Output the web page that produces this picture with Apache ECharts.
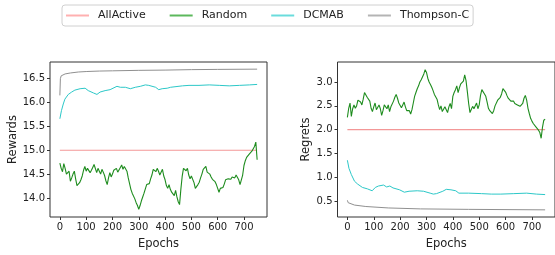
<!DOCTYPE html>
<html>
<head>
<meta charset="utf-8">
<script src="https://cdn.jsdelivr.net/npm/echarts@6/dist/echarts.min.js"></script>
<style>html,body{margin:0;padding:0;background:#fff}#c{width:555px;height:255px}</style>
</head>
<body>
<div id="c"></div>
<script>
// ---------- data ----------
const seriesNames = ['AllActive', 'Random', 'DCMAB', 'Thompson-C'];
const xTicks = [0, 100, 200, 300, 400, 500, 600, 700];
const rewardTicks = [14.0, 14.5, 15.0, 15.5, 16.0, 16.5];
const regretTicks = [0.5, 1.0, 1.5, 2.0, 2.5, 3.0];

// Random series sampled every 5 epochs (0..750)
const randomEpochs = Array.from({length: 151}, (_, i) => i * 5);
const rewardRandom = [
  14.73,14.62,14.55,14.72,14.62,14.50,14.46,14.56,14.35,14.42,
  14.50,14.56,14.40,14.26,14.24,14.32,14.38,14.46,14.58,14.66,
  14.56,14.62,14.58,14.53,14.58,14.64,14.70,14.74,14.53,14.62,
  14.56,14.50,14.60,14.54,14.47,14.36,14.28,14.42,14.53,14.44,
  14.50,14.58,14.60,14.62,14.54,14.58,14.64,14.69,14.60,14.66,
  14.68,14.56,14.42,14.30,14.18,14.10,14.06,13.98,13.90,13.84,
  13.76,13.84,13.94,14.02,14.10,14.19,14.28,14.32,14.30,14.40,
  14.48,14.60,14.64,14.55,14.62,14.56,14.48,14.46,14.60,14.46,
  14.38,14.26,14.20,14.28,14.18,14.12,14.08,14.05,14.16,14.02,
  13.92,13.86,14.18,14.45,14.62,14.62,14.57,14.62,14.48,14.40,
  14.46,14.48,14.32,14.20,14.24,14.28,14.33,14.42,14.50,14.60,
  14.64,14.66,14.54,14.58,14.50,14.44,14.39,14.42,14.34,14.28,
  14.20,14.12,14.20,14.17,14.22,14.29,14.38,14.36,14.40,14.42,
  14.39,14.44,14.46,14.42,14.48,14.46,14.38,14.28,14.30,14.48,
  14.68,14.78,14.85,14.87,14.92,14.96,14.98,15.02,15.08,15.17,
  14.80
];
const regretRandom = [
  2.26,2.45,2.56,2.28,2.44,2.52,2.45,2.50,2.62,2.66,
  2.58,2.52,2.64,2.78,2.75,2.68,2.70,2.60,2.45,2.38,
  2.48,2.56,2.42,2.45,2.52,2.44,2.30,2.40,2.52,2.50,
  2.44,2.52,2.38,2.48,2.44,2.60,2.68,2.74,2.66,2.56,
  2.56,2.46,2.52,2.58,2.48,2.40,2.40,2.40,2.33,2.42,
  2.56,2.70,2.78,2.86,2.92,3.00,3.05,3.08,3.17,3.26,
  3.20,3.08,3.00,2.95,2.89,2.82,2.74,2.70,2.64,2.52,
  2.42,2.50,2.38,2.42,2.48,2.42,2.36,2.48,2.55,2.44,
  2.70,2.78,2.84,2.92,2.78,2.88,2.96,2.93,3.02,3.15,
  3.03,2.80,2.55,2.36,2.40,2.49,2.44,2.48,2.56,2.44,
  2.52,2.72,2.84,2.82,2.75,2.70,2.58,2.45,2.40,2.42,
  2.34,2.40,2.50,2.54,2.62,2.65,2.68,2.75,2.86,2.88,
  2.79,2.72,2.66,2.62,2.60,2.57,2.60,2.55,2.56,2.52,
  2.54,2.49,2.51,2.55,2.66,2.72,2.62,2.45,2.34,2.24,
  2.18,2.13,2.10,2.06,2.02,1.99,1.94,1.82,2.05,2.20,
  2.22
];

const allActiveEpochs = [0, 750];
const rewardAllActive = [15.0, 15.0];
const regretAllActive = [2.0, 2.0];

const rewardDcmabEpochs = [0,6,13,19,32,45,57,77,96,108,128,141,147,153,160,172,191,217,230,249,268,287,306,325,338,364,376,389,408,421,427,466,491,529,568,606,644,683,721,750];
const rewardDcmab = [15.66,15.83,15.97,16.07,16.17,16.22,16.26,16.29,16.30,16.25,16.20,16.17,16.18,16.22,16.20,16.25,16.27,16.34,16.32,16.32,16.29,16.32,16.34,16.37,16.36,16.32,16.27,16.29,16.30,16.32,16.36,16.35,16.36,16.36,16.37,16.36,16.35,16.36,16.37,16.38];

const rewardThompsonEpochs = [0,2,5,10,20,40,70,100,150,200,300,400,500,600,750];
const rewardThompson = [16.15,16.50,16.56,16.58,16.60,16.62,16.64,16.65,16.66,16.665,16.675,16.68,16.69,16.695,16.70];

const regretDcmabEpochs = [0,6,15,27,39,57,76,94,106,118,137,143,149,161,173,198,216,234,265,289,314,326,338,362,375,393,411,423,460,509,546,582,631,680,717,750];
const regretDcmab = [1.36,1.19,1.06,0.92,0.86,0.79,0.76,0.72,0.79,0.82,0.84,0.86,0.80,0.82,0.78,0.74,0.69,0.71,0.72,0.71,0.67,0.65,0.66,0.71,0.75,0.74,0.72,0.67,0.67,0.66,0.65,0.65,0.66,0.67,0.65,0.64];

const regretThompsonEpochs = [0,3,8,27,70,155,277,460,750];
const regretThompson = [0.52,0.47,0.45,0.42,0.39,0.36,0.34,0.33,0.32];

// ---------- styling ----------
const colors = {'AllActive':'#f39797','Random':'#1e8c1e','DCMAB':'#2cc8c8','Thompson-C':'#909090'};
const legendColors = {'AllActive':'#ffb0b0','Random':'#5cb85c','DCMAB':'#6adcdc','Thompson-C':'#b4b4b4'};
const FONT = 'DejaVu Sans';
const pair = (xs, ys) => xs.map((x, i) => [x, ys[i]]);

function xAxis(gi) {
  return {
    type: 'value', gridIndex: gi, min: -37.5, max: 787.5,
    name: 'Epochs', nameLocation: 'middle', nameGap: 21,
    nameTextStyle: {fontFamily: FONT, fontSize: 11.5, color: '#222'},
    axisLine: {show: false, onZero: false},
    axisTick: {show: true, customValues: xTicks, length: 3, lineStyle: {color: '#333'}},
    axisLabel: {customValues: xTicks, fontFamily: FONT, fontSize: 10, color: '#222', margin: 5},
    splitLine: {show: false}
  };
}
function yAxis(gi, min, max, ticks, name, gap) {
  return {
    type: 'value', gridIndex: gi, min: min, max: max,
    name: name, nameLocation: 'middle', nameGap: gap, nameRotate: 90,
    nameTextStyle: {fontFamily: FONT, fontSize: 11.5, color: '#222'},
    axisLine: {show: false, onZero: false},
    axisTick: {show: true, customValues: ticks, length: 3, lineStyle: {color: '#333'}},
    axisLabel: {customValues: ticks, fontFamily: FONT, fontSize: 10, color: '#222', margin: 5,
      formatter: v => v.toFixed(1)},
    splitLine: {show: false}
  };
}
function line(name, gi, data, w) {
  return {
    name: name, type: 'line', xAxisIndex: gi, yAxisIndex: gi, data: data,
    showSymbol: false, symbol: 'none', animation: false,
    lineStyle: {color: colors[name], width: w || 1}, itemStyle: {color: colors[name]}
  };
}

const chart = echarts.init(document.getElementById('c'), null, {renderer: 'canvas'});
chart.setOption({
  animation: false,
  backgroundColor: '#fff',
  legend: {
    data: seriesNames.map(n => ({name: n, itemStyle: {color: legendColors[n]}})),
    left: 62, top: 5, icon: 'rect',
    padding: [5, 4, 5, 4], itemGap: 24, itemWidth: 23, itemHeight: 2,
    borderColor: '#d0d0d0', borderWidth: 1, borderRadius: 3,
    textStyle: {fontFamily: FONT, fontSize: 11, color: '#222', padding: [0, 0, 0, 4]}
  },
  grid: [
    {left: 50, top: 62, width: 217, height: 161, show: true, borderColor: '#333', borderWidth: 1},
    {left: 337.5, top: 62, width: 225, height: 162, show: true, borderColor: '#333', borderWidth: 1}
  ],
  xAxis: [xAxis(0), xAxis(1)],
  yAxis: [
    yAxis(0, 13.60, 16.85, rewardTicks, 'Rewards', 31),
    yAxis(1, 0.17, 3.42, regretTicks, 'Regrets', 25)
  ],
  series: [
    line('AllActive', 0, pair(allActiveEpochs, rewardAllActive), 1.2),
    line('Random', 0, pair(randomEpochs, rewardRandom), 1.1),
    line('DCMAB', 0, pair(rewardDcmabEpochs, rewardDcmab)),
    line('Thompson-C', 0, pair(rewardThompsonEpochs, rewardThompson)),
    line('AllActive', 1, pair(allActiveEpochs, regretAllActive), 1.2),
    line('Random', 1, pair(randomEpochs, regretRandom), 1.1),
    line('DCMAB', 1, pair(regretDcmabEpochs, regretDcmab)),
    line('Thompson-C', 1, pair(regretThompsonEpochs, regretThompson))
  ]
});
</script>
</body>
</html>
